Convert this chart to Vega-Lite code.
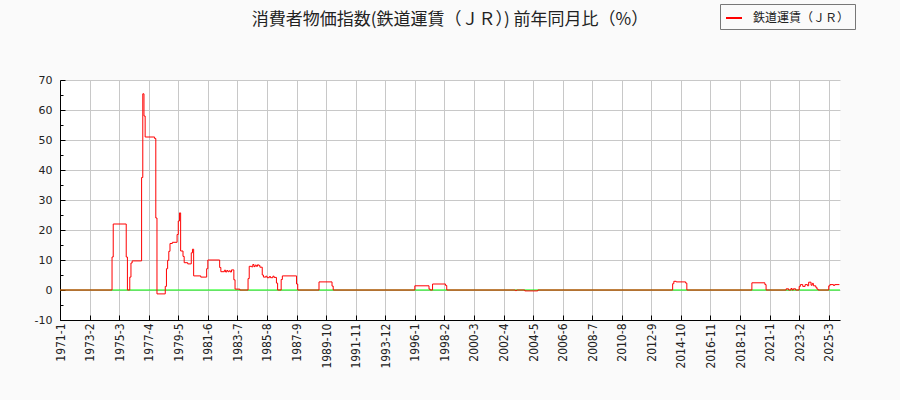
{
  "$schema": "https://vega.github.io/schema/vega-lite/v6.json",
  "width": 780,
  "height": 240,
  "autosize": "none",
  "padding": {"left": 60, "top": 80, "right": 60, "bottom": 80},
  "background": "#fafafa",
  "config": {"view": {"fill": "#ffffff", "stroke": null}},
  "title": {
    "text": "消費者物価指数(鉄道運賃（ＪＲ）) 前年同月比（%）",
    "font": "Noto Sans CJK JP",
    "fontSize": 17,
    "fontWeight": "normal",
    "color": "#222222",
    "anchor": "middle",
    "frame": "group",
    "baseline": "bottom",
    "offset": -42
  },
  "data": {
    "values": [
      {"m": 0, "v": 0}, {"m": 44, "v": 11}, {"m": 45, "v": 22}, {"m": 56, "v": 11}, {"m": 57, "v": 0},
      {"m": 59, "v": 4.3}, {"m": 60, "v": 9}, {"m": 61, "v": 9.7}, {"m": 69, "v": 37.5}, {"m": 70, "v": 65.4},
      {"m": 71, "v": 58}, {"m": 72, "v": 51}, {"m": 80, "v": 50.5}, {"m": 81, "v": 24}, {"m": 82, "v": -1.3},
      {"m": 89, "v": 1.2}, {"m": 90, "v": 7.1}, {"m": 91, "v": 9.9}, {"m": 92, "v": 12.9}, {"m": 93, "v": 15.5},
      {"m": 95, "v": 15.9}, {"m": 99, "v": 18.5}, {"m": 100, "v": 23}, {"m": 101, "v": 25.7}, {"m": 102, "v": 13},
      {"m": 104, "v": 11.2}, {"m": 105, "v": 9.1}, {"m": 108, "v": 8.7}, {"m": 111, "v": 12.4}, {"m": 112, "v": 13.6},
      {"m": 113, "v": 4.7}, {"m": 119, "v": 4.3}, {"m": 124, "v": 7.1}, {"m": 125, "v": 10}, {"m": 135, "v": 7.5},
      {"m": 136, "v": 6.1}, {"m": 139, "v": 6.6}, {"m": 140, "v": 6.0}, {"m": 141, "v": 6.5}, {"m": 142, "v": 6.1},
      {"m": 143, "v": 6.4}, {"m": 144, "v": 6.0}, {"m": 145, "v": 6.7}, {"m": 147, "v": 3.4}, {"m": 148, "v": 0.3},
      {"m": 152, "v": 0}, {"m": 159, "v": 3.8}, {"m": 160, "v": 7.9}, {"m": 162, "v": 7.7}, {"m": 163, "v": 8.5},
      {"m": 164, "v": 7.8}, {"m": 165, "v": 8.3}, {"m": 166, "v": 7.9}, {"m": 167, "v": 8.4}, {"m": 168, "v": 8.2},
      {"m": 169, "v": 7.6}, {"m": 171, "v": 5.0}, {"m": 172, "v": 4.3}, {"m": 174, "v": 4.6}, {"m": 175, "v": 4.1},
      {"m": 177, "v": 4.5}, {"m": 178, "v": 4.1}, {"m": 180, "v": 4.6}, {"m": 181, "v": 4.2}, {"m": 183, "v": 2.3},
      {"m": 184, "v": 0}, {"m": 187, "v": 3.5}, {"m": 188, "v": 4.7}, {"m": 200, "v": 2}, {"m": 201, "v": 0},
      {"m": 219, "v": 2.7}, {"m": 230, "v": 1.3}, {"m": 231, "v": 0}, {"m": 300, "v": 1.4}, {"m": 312, "v": 0.3},
      {"m": 313, "v": 0}, {"m": 315, "v": 2.0}, {"m": 326, "v": 1.5}, {"m": 327, "v": 0}, {"m": 385, "v": -0.2},
      {"m": 386, "v": 0}, {"m": 393, "v": -0.3}, {"m": 404, "v": 0}, {"m": 518, "v": 2.1}, {"m": 519, "v": 2.9},
      {"m": 521, "v": 2.7}, {"m": 529, "v": 2.3}, {"m": 530, "v": 0}, {"m": 585, "v": 2.4}, {"m": 596, "v": 1.8},
      {"m": 597, "v": 0}, {"m": 614, "v": 0.4}, {"m": 616, "v": 0}, {"m": 618, "v": 0.5}, {"m": 619, "v": 0},
      {"m": 620, "v": 0.4}, {"m": 622, "v": 0}, {"m": 625, "v": 1.2}, {"m": 626, "v": 1.8}, {"m": 628, "v": 1.2},
      {"m": 630, "v": 1.8}, {"m": 632, "v": 1.4}, {"m": 633, "v": 2.6}, {"m": 635, "v": 1.6}, {"m": 636, "v": 2.2},
      {"m": 637, "v": 1.4}, {"m": 639, "v": 0.9}, {"m": 640, "v": 0.3}, {"m": 641, "v": 0}, {"m": 650, "v": 1.4},
      {"m": 651, "v": 1.8}, {"m": 654, "v": 1.5}, {"m": 655, "v": 1.8}, {"m": 659, "v": 1.8}
    ]
  },
  "encoding": {
    "y": {
      "field": "v",
      "type": "quantitative",
      "scale": {"domain": [-10, 70], "nice": false, "zero": false},
      "axis": {
        "title": null,
        "values": [-10, -5, 0, 5, 10, 15, 20, 25, 30, 35, 40, 45, 50, 55, 60, 65, 70],
        "labelExpr": "datum.value % 10 == 0 ? '' + datum.value : ''",
        "gridColor": "#c8c8c8",
        "gridOpacity": {"condition": {"test": "datum.value % 10 == 0", "value": 1}, "value": 0},
        "tickSize": {"condition": {"test": "datum.value % 10 == 0", "value": -5}, "value": -3},
        "domainColor": "#000000",
        "tickColor": "#000000",
        "labelFont": "DejaVu Sans",
        "labelFontSize": 11,
        "labelColor": "#222222",
        "labelPadding": 13,
        "labelFlush": false,
        "labelOverlap": false
      }
    }
  },
  "layer": [
    {
      "transform": [{"filter": "datum.m == 0"}],
      "mark": {"type": "rule", "color": "#00ff00", "strokeWidth": 1},
      "encoding": {}
    },
    {
      "mark": {"type": "line", "interpolate": "step-after", "strokeWidth": 1},
      "encoding": {
        "x": {
          "field": "m",
          "type": "quantitative",
          "scale": {"domain": [0, 659.5], "nice": false, "zero": false},
          "axis": {
            "title": null,
            "values": [0, 25, 50, 75, 100, 125, 150, 175, 200, 225, 250, 275, 300, 325, 350, 375, 400, 425, 450, 475, 500, 525, 550, 575, 600, 625, 650],
            "labelExpr": "(floor(datum.value / 12) + 1971) + '-' + (datum.value % 12 + 1)",
            "labelAngle": 270,
            "gridColor": "#c8c8c8",
            "domainColor": "#000000",
            "tickColor": "#000000",
            "tickSize": -5,
            "labelPadding": 8,
            "labelFont": "Liberation Sans Narrow, DejaVu Sans Condensed, sans-serif",
            "labelFontSize": 12,
            "labelColor": "#222222",
            "labelFlush": false,
            "labelOverlap": false
          }
        },
        "color": {
          "datum": "鉄道運賃（ＪＲ）",
          "scale": {"range": ["#ff0000"]},
          "legend": {
            "orient": "none",
            "legendX": 660,
            "legendY": -76,
            "title": null,
            "strokeColor": "#777777",
            "fillColor": "#fafafa",
            "padding": 5,
            "symbolType": "stroke",
            "symbolStrokeWidth": 2,
            "symbolSize": 256,
            "labelFont": "Noto Sans CJK JP",
            "labelFontSize": 12,
            "labelColor": "#222222",
            "labelOffset": 10
          }
        }
      }
    }
  ]
}
